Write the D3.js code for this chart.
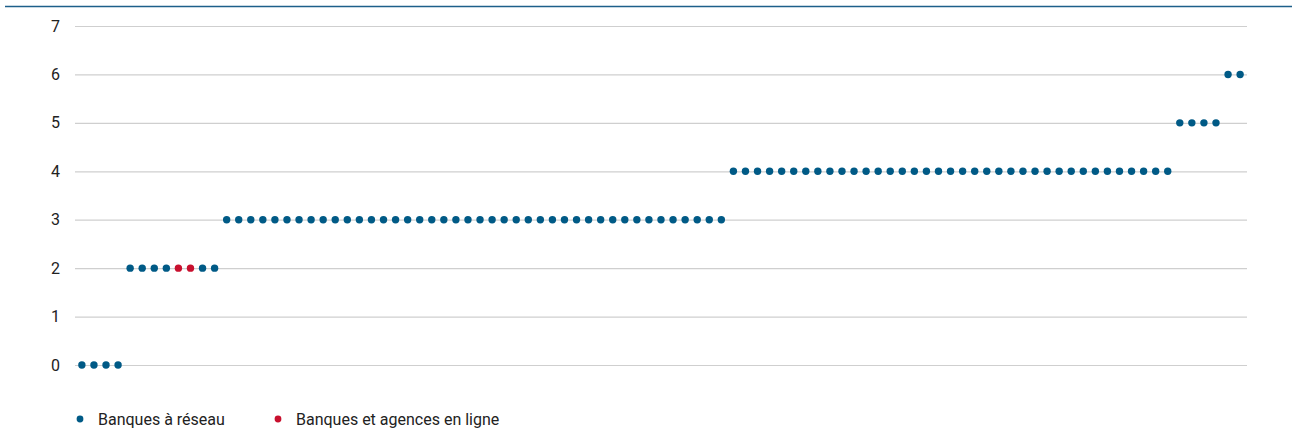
<!DOCTYPE html>
<html>
<head>
<meta charset="utf-8">
<script src="https://cdn.jsdelivr.net/npm/d3@7"></script>
<style>
  body { margin: 0; background: #fff; }
  text { font-family: "Liberation Sans Narrow", "Roboto", sans-serif; fill: #222; }
</style>
</head>
<body>
<div id="chart"></div>
<script>
// Score of each bank, sorted (one dot per bank)
var scores = [
  0, 0, 0, 0,
  2, 2, 2, 2, 2, 2, 2, 2,
  3, 3, 3, 3, 3, 3, 3, 3, 3, 3, 3, 3, 3, 3, 3, 3, 3, 3, 3, 3, 3,
  3, 3, 3, 3, 3, 3, 3, 3, 3, 3, 3, 3, 3, 3, 3, 3, 3, 3, 3, 3, 3,
  4, 4, 4, 4, 4, 4, 4, 4, 4, 4, 4, 4, 4, 4, 4, 4, 4, 4, 4, 4, 4,
  4, 4, 4, 4, 4, 4, 4, 4, 4, 4, 4, 4, 4, 4, 4, 4,
  5, 5, 5, 5,
  6, 6
];
// type of bank: "reseau" or "ligne"
var types = [
  "reseau", "reseau", "reseau", "reseau",
  "reseau", "reseau", "reseau", "reseau", "ligne", "ligne", "reseau", "reseau",
  "reseau", "reseau", "reseau", "reseau", "reseau", "reseau", "reseau", "reseau", "reseau",
  "reseau", "reseau", "reseau", "reseau", "reseau", "reseau", "reseau", "reseau", "reseau",
  "reseau", "reseau", "reseau", "reseau", "reseau", "reseau", "reseau", "reseau", "reseau",
  "reseau", "reseau", "reseau", "reseau", "reseau", "reseau", "reseau", "reseau", "reseau",
  "reseau", "reseau", "reseau", "reseau", "reseau", "reseau",
  "reseau", "reseau", "reseau", "reseau", "reseau", "reseau", "reseau", "reseau", "reseau",
  "reseau", "reseau", "reseau", "reseau", "reseau", "reseau", "reseau", "reseau", "reseau",
  "reseau", "reseau", "reseau", "reseau", "reseau", "reseau", "reseau", "reseau", "reseau",
  "reseau", "reseau", "reseau", "reseau", "reseau", "reseau", "reseau", "reseau", "reseau",
  "reseau",
  "reseau", "reseau", "reseau", "reseau",
  "reseau", "reseau"
];
var yTicks = [0, 1, 2, 3, 4, 5, 6, 7];
var legendKeys = ["reseau", "ligne"];
var legendLabels = ["Banques à réseau", "Banques et agences en ligne"];

var W = 1292, H = 432;
var margin = {top: 26, right: 45, bottom: 67, left: 75},
    width = W - margin.left - margin.right,
    height = H - margin.top - margin.bottom;

var color = d3.scaleOrdinal()
              .domain(legendKeys)
              .range(["#005a86", "#c8102e"]);

var svg = d3.select("#chart")
            .append("svg")
            .attr("width", W)
            .attr("height", H);

// dark top rule
svg.append("line")
   .attr("x1", 5).attr("x2", W)
   .attr("y1", 6.5).attr("y2", 6.5)
   .attr("stroke", "#1d5f8a")
   .attr("stroke-width", 1.6);

var g = svg.append("g")
           .attr("transform", "translate(" + margin.left + "," + margin.top + ")");

var x = d3.scalePoint()
          .domain(d3.range(scores.length))
          .range([0, width])
          .padding(0.57);

var y = d3.scaleLinear()
          .domain([0, 7])
          .range([height, 0]);

// y axis + gridlines
var yAxis = g.append("g")
   .call(d3.axisLeft(y).tickValues(yTicks).tickFormat(d3.format("d"))
           .tickSize(-width).tickPadding(15));
yAxis.select(".domain").remove();
yAxis.selectAll(".tick line")
     .attr("stroke", "#cfcfcf")
     .attr("stroke-width", 1.2);
yAxis.selectAll(".tick text")
     .attr("font-size", 16)
     .attr("fill", "#222")
     .style("font-family", "'Liberation Sans Narrow', Roboto, sans-serif");

// dots
g.append("g")
 .selectAll("circle")
 .data(scores)
 .enter().append("circle")
   .attr("cx", function(d, i) { return x(i); })
   .attr("cy", function(d) { return y(d); })
   .attr("r", 3.7)
   .attr("fill", function(d, i) { return color(types[i]); });

// legend
var legend = svg.append("g")
                .attr("transform", "translate(80,419)");
var legendX = [0, 198];
legendKeys.forEach(function(k, i) {
  legend.append("circle")
        .attr("cx", legendX[i]).attr("cy", 0)
        .attr("r", 3.4)
        .attr("fill", color(k));
  legend.append("text")
        .attr("x", legendX[i] + 18).attr("y", 5.5)
        .attr("font-size", 16)
        .text(legendLabels[i]);
});
</script>
</body>
</html>
